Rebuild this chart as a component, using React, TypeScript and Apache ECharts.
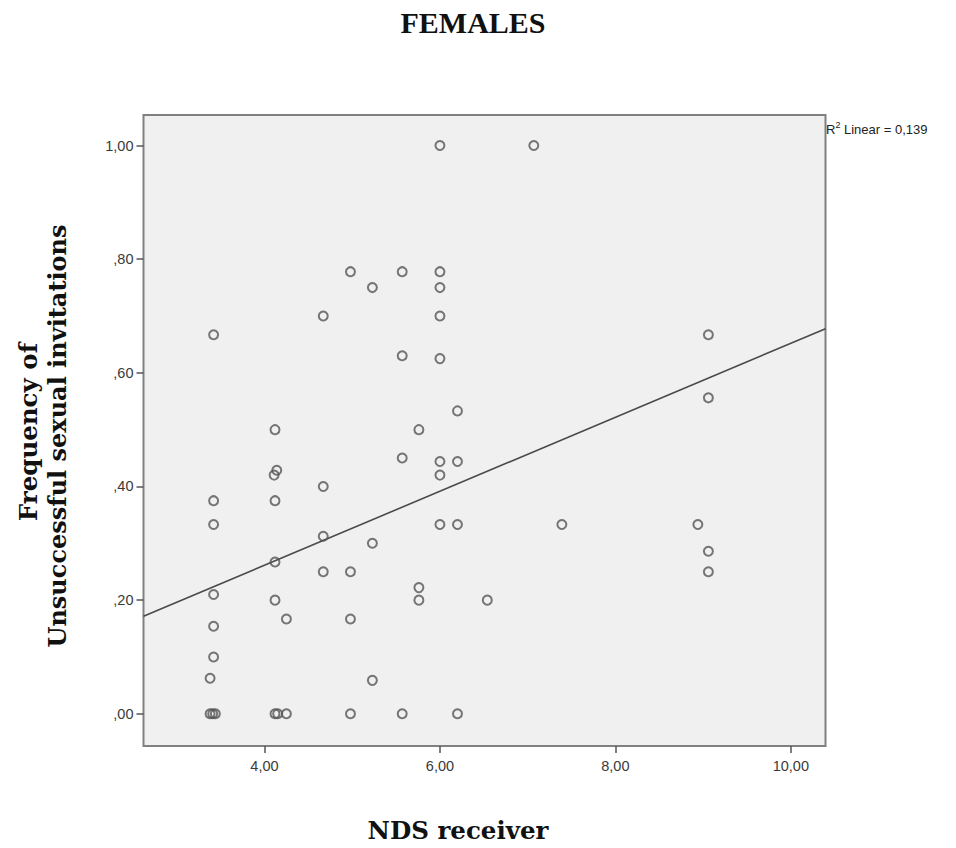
import React, { useEffect, useRef } from "react";
import * as echarts from "echarts";

// NDS receiver (x) and frequency of unsuccessful sexual invitations (y)
const ndsReceiver: number[] = [
  3.42, 3.42, 3.42, 3.42, 3.42, 3.42, 3.38, 3.38, 3.41, 3.44,
  4.12, 4.14, 4.11, 4.12, 4.12, 4.12, 4.25, 4.12, 4.15, 4.25,
  4.67, 4.67, 4.67, 4.67,
  4.98, 4.98, 4.98, 4.98,
  5.23, 5.23, 5.23,
  5.57, 5.57, 5.57, 5.57,
  5.76, 5.76, 5.76,
  6.0, 6.0, 6.0, 6.0, 6.0, 6.0, 6.0, 6.0,
  6.2, 6.2, 6.2, 6.2,
  6.54, 7.07, 7.39, 8.94,
  9.06, 9.06, 9.06, 9.06,
];
const unsuccessfulFreq: number[] = [
  0.667, 0.375, 0.333, 0.21, 0.154, 0.1, 0.0625, 0, 0, 0,
  0.5, 0.4286, 0.42, 0.375, 0.267, 0.2, 0.1667, 0, 0, 0,
  0.7, 0.4, 0.3125, 0.25,
  0.778, 0.25, 0.1667, 0,
  0.75, 0.3, 0.0588,
  0.778, 0.63, 0.45, 0,
  0.5, 0.222, 0.2,
  1.0, 0.778, 0.75, 0.7, 0.625, 0.444, 0.42, 0.333,
  0.533, 0.444, 0.333, 0,
  0.2, 1.0, 0.333, 0.333,
  0.667, 0.556, 0.286, 0.25,
];

// Linear fit
const fitIntercept = 0.001;
const fitSlope = 0.0651;
const rSquaredLabel = "0,139";

const xTicks: number[] = [4, 6, 8, 10];
const yTicks: number[] = [0, 0.2, 0.4, 0.6, 0.8, 1.0];
const xRange: [number, number] = [2.621, 10.395];
const yRange: [number, number] = [-0.0567, 1.0537];

const fmt = (v: number) => {
  let s = v.toFixed(2).replace(".", ",");
  if (s.startsWith("0,")) s = s.slice(1);
  return s;
};

export default function App() {
  const ref = useRef<HTMLDivElement>(null);
  useEffect(() => {
    if (!ref.current) return;
    const chart = echarts.init(ref.current, undefined, { renderer: "svg" });
    const points = ndsReceiver.map((x, i) => [x, unsuccessfulFreq[i]]);
    const fitLine = xRange.map((x) => [x, fitIntercept + fitSlope * x]);
    const serif = '"DejaVu Serif", serif';
    const sans = '"Liberation Sans", Arial, sans-serif';
    chart.setOption({
      animation: false,
      backgroundColor: "#ffffff",
      grid: {
        left: 143.5,
        top: 115,
        width: 682,
        height: 631,
        show: true,
        backgroundColor: "#f0f0f0",
        borderColor: "#808080",
        borderWidth: 2,
      },
      xAxis: {
        type: "value",
        min: xRange[0],
        max: xRange[1],
        splitLine: { show: false },
        axisLine: { show: false, onZero: false },
        axisTick: {
          show: true,
          length: 7,
          customValues: xTicks,
          lineStyle: { color: "#555", width: 1.5 },
        },
        axisLabel: {
          customValues: xTicks,
          formatter: fmt,
          margin: 12,
          fontFamily: sans,
          fontSize: 14.5,
          color: "#3a3a3a",
        },
      },
      yAxis: {
        type: "value",
        min: yRange[0],
        max: yRange[1],
        splitLine: { show: false },
        axisLine: { show: false, onZero: false },
        axisTick: {
          show: true,
          length: 7,
          customValues: yTicks,
          lineStyle: { color: "#555", width: 1.5 },
        },
        axisLabel: {
          customValues: yTicks,
          formatter: fmt,
          margin: 10,
          fontFamily: sans,
          fontSize: 14.5,
          color: "#3a3a3a",
        },
      },
      graphic: [
        {
          type: "text",
          x: 473,
          y: 22,
          style: {
            text: "FEMALES",
            font: 'bold 30px "Liberation Serif", serif',
            fill: "#111",
            align: "center",
            verticalAlign: "middle",
          },
        },
        {
          type: "text",
          x: 458,
          y: 830,
          style: {
            text: "NDS receiver",
            font: `bold 24.5px ${serif}`,
            fill: "#111",
            align: "center",
            verticalAlign: "middle",
          },
        },
        {
          type: "text",
          x: 28,
          y: 432,
          rotation: Math.PI / 2,
          style: {
            text: "Frequency of",
            font: `bold 24.5px ${serif}`,
            fill: "#111",
            align: "center",
            verticalAlign: "middle",
          },
        },
        {
          type: "text",
          x: 57,
          y: 436,
          rotation: Math.PI / 2,
          style: {
            text: "Unsuccessful sexual invitations",
            font: `bold 24px ${serif}`,
            fill: "#111",
            align: "center",
            verticalAlign: "middle",
          },
        },
        {
          type: "text",
          x: 826,
          y: 128,
          style: {
            text: "{r|R}{s|2}{t| Linear = " + rSquaredLabel + "}",
            rich: {
              r: { fontSize: 13, fontFamily: sans, fill: "#222", verticalAlign: "bottom" },
              s: { fontSize: 9, fontFamily: sans, fill: "#222", verticalAlign: "top", padding: [0, 0, 6, 0] },
              t: { fontSize: 13, fontFamily: sans, fill: "#222", verticalAlign: "bottom" },
            },
            verticalAlign: "middle",
          },
        },
      ],
      series: [
        {
          type: "line",
          data: fitLine,
          symbol: "none",
          lineStyle: { color: "#4a4a4a", width: 1.6 },
          silent: true,
          z: 3,
        },
        {
          type: "scatter",
          data: points,
          symbol: "circle",
          symbolSize: 9,
          itemStyle: {
            color: "rgba(0,0,0,0)",
            borderColor: "#555",
            borderWidth: 2,
          },
          z: 4,
        },
      ],
    });
    return () => chart.dispose();
  }, []);
  return (
    <div
      ref={ref}
      style={{ position: "fixed", left: 0, top: 0, width: 956, height: 848 }}
    />
  );
}
